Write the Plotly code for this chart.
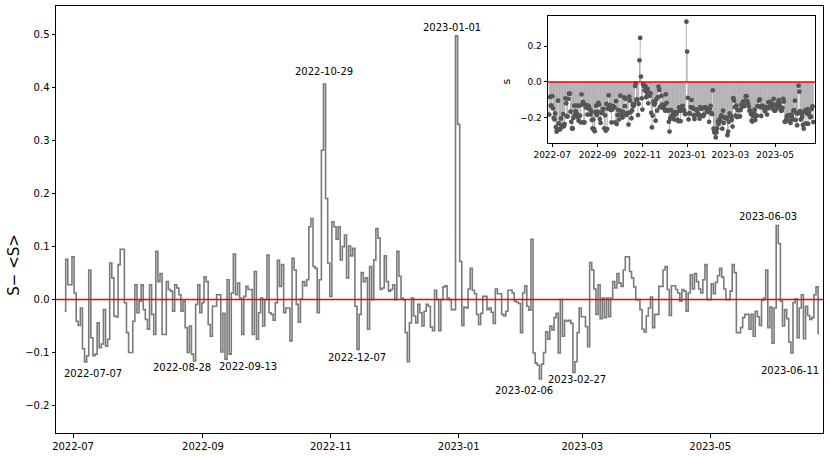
import pandas as pd
import plotly.graph_objects as go

# ---------------- data ----------------
start_date = "2022-06-27"
s_dev = [
    -0.022, 0.076, 0.028, 0.028, 0.081, 0.0125, -0.041, -0.049, -0.016, -0.093,
    -0.118, -0.106, 0.056, -0.072, -0.106, -0.103, -0.044, -0.091, -0.084, -0.019,
    -0.088, -0.075, 0.069, 0.041, -0.031, -0.033, 0.066, 0.095, 0.095, -0.006,
    -0.0625, -0.1, -0.1, -0.041, 0.028, -0.025, -0.003, 0.028, -0.019, -0.0375,
    -0.056, 0.028, -0.028, -0.066, 0.091, 0.034, 0.049, -0.066, -0.066, 0.034,
    0.019, 0.016, -0.022, 0.028, 0.022, 0.009, -0.022, -0.003, -0.053, -0.1,
    -0.05, -0.103, -0.116, -0.009, 0.028, -0.025, -0.006, 0.043, 0.034, -0.047,
    -0.069, -0.0125, -0.0125, 0.009, 0.009, -0.099, -0.026, -0.1125, 0.0375, -0.103,
    0.0125, 0.086, 0.009, 0.031, 0.003, -0.066, 0.006, 0.025, 0.019,
    0.019, -0.066, 0.053, -0.075, -0.025, 0.003, -0.05, 0.0, 0.084, -0.025,
    -0.028, -0.039, -0.006, 0.074, 0.025, 0.066, -0.025, -0.016, -0.016, -0.078,
    0.078, 0.056, -0.009, -0.0425, 0.001, 0.034, 0.026, 0.0375, 0.1375, 0.153,
    0.0625, 0.059, -0.025, 0.0375, 0.282, 0.407, 0.191, 0.069, 0.006, 0.147,
    0.1375, 0.114, 0.1375, 0.075, 0.1, 0.122, 0.041, 0.101, 0.0825, 0.097,
    -0.0125, -0.094, -0.028, 0.051, 0.034, 0.041, -0.056, 0.0625, 0.0, 0.075,
    0.134, 0.116, 0.019, 0.022, 0.0825, 0.034, 0.016, 0.019, 0.028, 0.0,
    0.091, 0.044, 0.003, 0.0, -0.0625, -0.1175, -0.044, 0.003, -0.031, -0.044,
    -0.009, -0.025, -0.05, -0.022, -0.009, -0.0125, -0.052, -0.059, 0.0175, 0.0,
    -0.059, 0.0, 0.024, 0.026, 0.003, 0.0,
    -0.019, -0.019, 0.498, 0.331,
    0.072, -0.049, -0.014, -0.016, 0.02, 0.059, 0.0175, 0.011, -0.028, -0.047,
    -0.026, 0.006, 0.006, -0.019, -0.016, -0.024, -0.045, 0.02, 0.011, 0.011,
    -0.028, -0.031, -0.022, 0.0175, 0.0175, 0.0125, -0.003, -0.005, -0.0075, -0.0625,
    0.0125, 0.026, -0.0125, -0.02, 0.114, -0.101, -0.12, -0.124, -0.15, -0.122,
    -0.1, -0.061, -0.075, -0.05, -0.0575, -0.034, -0.026, -0.101, 0.0, -0.069,
    -0.039, -0.041, -0.039, -0.045, -0.1375, -0.1175, -0.0625, -0.016, -0.0325, -0.0325,
    -0.051, -0.089, 0.07, 0.056, 0.02, -0.028, 0.028, -0.036, 0.003, -0.034,
    0.003, -0.0325, 0.003, 0.034, 0.022, 0.049, 0.031, 0.025, 0.056, 0.081,
    0.081, 0.053, 0.041, 0.024, 0.0, 0.0, -0.019, -0.056, -0.061, -0.031, -0.016,
    0.005, -0.053, -0.028, -0.028, 0.025, 0.025, 0.056, 0.0625, 0.019, -0.03,
    0.026, 0.026, 0.019, 0.0125, -0.003, 0.019, 0.016, -0.022, 0.0125, 0.047,
    0.02, 0.049, 0.034, 0.02, 0.0125, 0.0375, 0.066, 0.0, 0.0, 0.03,
    0.011, 0.0325, 0.045, 0.059, 0.0425, 0.02, 0.0, 0.0, 0.016, 0.066,
    0.051, -0.0625, -0.0625, -0.053, -0.034, -0.028, -0.028, -0.056, -0.028, -0.069,
    -0.022, -0.0325, -0.049, -0.001, 0.003, 0.056, -0.053, -0.014, -0.0825, -0.016,
    0.14, 0.106, -0.003, -0.05, -0.019, -0.036, -0.08, -0.101, -0.006, 0.001,
    -0.072, -0.016, 0.009, -0.074, -0.0125, -0.03, -0.0375, -0.034, 0.009, 0.024, -0.064,
]
s_mean = -0.161  # <S>

x_tick_vals = ["2022-07-01", "2022-09-01", "2022-11-01", "2023-01-01", "2023-03-01", "2023-05-01"]
main_y_ticks = [-0.2, -0.1, 0.0, 0.1, 0.2, 0.3, 0.4, 0.5]
inset_y_ticks = [-0.2, 0.0, 0.2]

annot_text = ["2022-07-07", "2022-08-28", "2022-09-13", "2022-10-29", "2022-12-07",
              "2023-01-01", "2023-02-06", "2023-02-27", "2023-06-03", "2023-06-11"]
annot_x = ["2022-07-10 08:38", "2022-08-21 21:36", "2022-09-22 07:00", "2022-10-28 17:00",
           "2022-11-13 10:00", "2022-12-28 17:00", "2023-02-01 07:00", "2023-02-26 07:00",
           "2023-05-28 17:00", "2023-06-08 00:00"]
annot_y = [-0.139, -0.128, -0.126, 0.430, -0.109, 0.513, -0.171, -0.150, 0.157, -0.133]

# ---------------- derived ----------------
dates = pd.date_range(start_date, periods=len(s_dev), freq="D")
s_vals = [v + s_mean for v in s_dev]

stem_x, stem_y = [], []
for d, v in zip(dates, s_vals):
    stem_x += [d, d, None]
    stem_y += [0, v, None]

fig = go.Figure()
fig.add_trace(go.Scatter(x=dates, y=s_dev, mode="lines",
                         line=dict(shape="hvh", color="#7a7a7a", width=1.6),
                         xaxis="x", yaxis="y", showlegend=False, hoverinfo="skip"))
fig.add_trace(go.Scatter(x=stem_x, y=stem_y, mode="lines",
                         line=dict(color="#a3a3a3", width=0.8),
                         xaxis="x2", yaxis="y2", showlegend=False, hoverinfo="skip"))
fig.add_trace(go.Scatter(x=dates, y=s_vals, mode="markers",
                         marker=dict(color="#555555", size=4.8),
                         xaxis="x2", yaxis="y2", showlegend=False))

axis_common = dict(showline=True, mirror=True, linecolor="black", linewidth=1,
                   ticks="outside", tickcolor="black", tickwidth=0.8,
                   showgrid=False, zeroline=False)

fig.update_layout(
    width=830, height=457,
    margin=dict(l=56, r=7, t=5, b=23),
    paper_bgcolor="white", plot_bgcolor="white",
    font=dict(family="DejaVu Sans", size=10, color="black"),
    showlegend=False,
    xaxis=dict(domain=[0, 1], range=["2022-06-22 21:00", "2023-06-23 20:00"],
               tickvals=x_tick_vals, tickformat="%Y-%m", ticklen=3.5,
               tickfont=dict(size=10), **axis_common),
    yaxis=dict(domain=[0, 1], range=[-0.252, 0.5545], tickvals=main_y_ticks,
               tickformat=".1f", ticklen=3.5, tickfont=dict(size=10), **axis_common),
    xaxis2=dict(domain=[0.641, 0.9896], anchor="y2",
                range=["2022-06-24 19:00", "2023-06-24 10:00"],
                tickvals=x_tick_vals, tickformat="%Y-%m", ticklen=3,
                tickfont=dict(size=9), **axis_common),
    yaxis2=dict(domain=[0.678, 0.977], anchor="x2", range=[-0.345, 0.37],
                tickvals=inset_y_ticks, tickformat=".1f", ticklen=3,
                tickfont=dict(size=9), **axis_common),
)

fig.add_shape(type="line", xref="x domain", x0=0, x1=1, yref="y", y0=0, y1=0,
              line=dict(color="red", width=1.5), layer="above")
fig.add_shape(type="line", xref="x2 domain", x0=0, x1=1, yref="y2", y0=0, y1=0,
              line=dict(color="red", width=1.5), layer="above")

for t, ax, ay in zip(annot_text, annot_x, annot_y):
    fig.add_annotation(x=ax, y=ay, xref="x", yref="y", text=t, showarrow=False,
                       xanchor="center", yanchor="middle", font=dict(size=10, color="black"))

fig.add_annotation(x=-0.0548, y=0.394, xref="paper", yref="paper", text="S\u2212 &lt;S&gt;",
                   showarrow=False, textangle=-90, xanchor="center", yanchor="middle",
                   font=dict(size=15, color="black"))
fig.add_annotation(x=0.588, y=0.823, xref="paper", yref="paper", text="s",
                   showarrow=False, textangle=-90, xanchor="center", yanchor="middle",
                   font=dict(size=11, color="black"))

fig.write_html("out.html", config={"displayModeBar": False},
               post_script="document.body.style.margin='0px';")
